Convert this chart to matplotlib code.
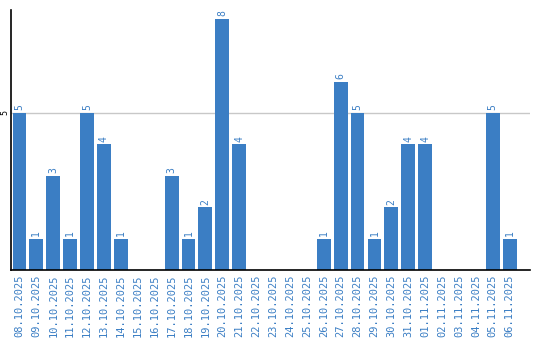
import matplotlib
matplotlib.use("Agg")
import matplotlib.pyplot as plt

dates = ["08.10.2025","09.10.2025","10.10.2025","11.10.2025","12.10.2025","13.10.2025",
         "14.10.2025","15.10.2025","16.10.2025","17.10.2025","18.10.2025","19.10.2025",
         "20.10.2025","21.10.2025","22.10.2025","23.10.2025","24.10.2025","25.10.2025",
         "26.10.2025","27.10.2025","28.10.2025","29.10.2025","30.10.2025","31.10.2025",
         "01.11.2025","02.11.2025","03.11.2025","04.11.2025","05.11.2025","06.11.2025"]
values = [5,1,3,1,5,4,1,0,0,3,1,2,8,4,0,0,0,0,1,6,5,1,2,4,4,0,0,0,5,1]

blue = "#3b7ec4"
fig = plt.figure(figsize=(5.4, 3.4), dpi=100)
ax = fig.add_axes([11/540, 70/340, 519/540, 260/340])
x = list(range(len(dates)))
ax.bar(x, values, width=0.82, color=blue, zorder=2)
for xi, v in zip(x, values):
    if v > 0:
        ax.text(xi, v + 0.08, str(v), rotation=90, ha="center", va="bottom",
                color=blue, fontsize=7, family="DejaVu Sans Mono")
ax.set_xlim(-0.5, 30.2)
ax.set_ylim(0, 8.28)
ax.set_yticks([5])
ax.set_yticklabels(["5"], rotation=90, va="center", fontsize=6, family="DejaVu Sans Mono")
ax.yaxis.grid(True, color="#c8c8c8", linewidth=1, zorder=0)
ax.set_xticks(x)
ax.set_xticklabels(dates, rotation=90, fontsize=7.5, family="DejaVu Sans Mono", color=blue)
ax.tick_params(axis="both", length=0, pad=3)
ax.tick_params(axis="y", pad=1)
for s in ["top", "right"]:
    ax.spines[s].set_visible(False)
ax.spines["left"].set_linewidth(1.2)
ax.spines["bottom"].set_linewidth(1.2)
fig.savefig("out.png", dpi=100)
